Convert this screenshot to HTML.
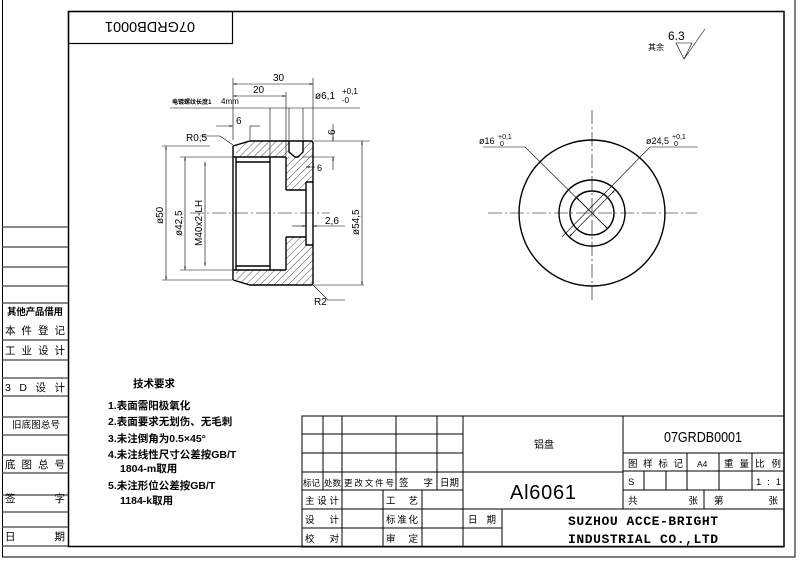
<!DOCTYPE html>
<html><head><meta charset="utf-8"><style>
html,body{margin:0;padding:0;background:#fff}
svg{display:block}
text{font-family:"Liberation Sans","Noto Sans CJK SC",sans-serif;fill:#000}
.c{font-family:"Noto Sans CJK SC","WenQuanYi Zen Hei",sans-serif}
.b{font-weight:bold}
</style></head><body>
<svg width="800" height="561" viewBox="0 0 800 561" xmlns="http://www.w3.org/2000/svg">
<defs>
<pattern id="h" width="5" height="5" patternUnits="userSpaceOnUse" patternTransform="rotate(45)">
<line x1="0" y1="0" x2="0" y2="5" stroke="#000" stroke-width="0.7"/></pattern>
<marker id="a" viewBox="0 0 10 10" refX="10" refY="5" markerWidth="6" markerHeight="6" orient="auto-start-reverse"><path d="M0,3 L10,5 L0,7z" fill="#000"/></marker>
</defs>
<g fill="none" stroke="#000">
<rect x="2.5" y="-1" width="792.5" height="558" stroke-width="1"/>
<rect x="68.5" y="11.5" width="715.5" height="535" stroke-width="1.5"/>
<rect x="68.5" y="11.5" width="164" height="32" stroke-width="1.2"/>
<g stroke-width="1.3" stroke="#444">
<line x1="2" y1="227" x2="68" y2="227"/><line x1="2" y1="247" x2="68" y2="247"/>
<line x1="2" y1="267" x2="68" y2="267"/><line x1="2" y1="286" x2="68" y2="286"/>
<line x1="2" y1="303" x2="68" y2="303"/><line x1="2" y1="340" x2="68" y2="340"/>
<line x1="2" y1="360" x2="68" y2="360"/><line x1="2" y1="378" x2="68" y2="378"/>
<line x1="2" y1="396" x2="68" y2="396"/><line x1="2" y1="417" x2="68" y2="417"/>
<line x1="2" y1="435" x2="68" y2="435"/><line x1="2" y1="455" x2="68" y2="455"/>
<line x1="2" y1="473" x2="68" y2="473"/><line x1="2" y1="495" x2="68" y2="495"/>
<line x1="2" y1="512" x2="68" y2="512"/><line x1="2" y1="527" x2="68" y2="527"/>
<line x1="2" y1="546" x2="68" y2="546"/>
</g>
<g stroke-width="1">
<rect x="302" y="416" width="482" height="131"/>
<line x1="302" y1="434" x2="463" y2="434"/><line x1="302" y1="453" x2="463" y2="453"/>
<line x1="302" y1="472" x2="463" y2="472"/><line x1="302" y1="490" x2="463" y2="490"/>
<line x1="302" y1="509" x2="463" y2="509"/><line x1="302" y1="528" x2="463" y2="528"/>
<line x1="323" y1="416" x2="323" y2="490"/><line x1="342" y1="416" x2="342" y2="547"/>
<line x1="396" y1="416" x2="396" y2="490"/><line x1="437" y1="416" x2="437" y2="490"/>
<line x1="383" y1="490" x2="383" y2="547"/><line x1="422" y1="490" x2="422" y2="547"/>
<line x1="463" y1="416" x2="463" y2="547"/><line x1="623" y1="416" x2="623" y2="509"/>
<line x1="463" y1="472" x2="623" y2="472"/>
<line x1="463" y1="509" x2="784" y2="509"/><line x1="463" y1="528" x2="502" y2="528"/>
<line x1="502" y1="509" x2="502" y2="547"/>
<line x1="623" y1="453" x2="784" y2="453"/><line x1="623" y1="471" x2="784" y2="471"/>
<line x1="623" y1="490" x2="784" y2="490"/>
<line x1="687" y1="453" x2="687" y2="490"/><line x1="719" y1="453" x2="719" y2="490"/>
<line x1="752" y1="453" x2="752" y2="490"/><line x1="644" y1="471" x2="644" y2="490"/>
<line x1="666" y1="471" x2="666" y2="490"/><line x1="704" y1="490" x2="704" y2="509"/>
</g>
<path d="M236,146 L250,141 L289,141 L289,157 L236,157 Z" fill="url(#h)" stroke="none"/>
<path d="M303,141 L313,141 L313,182 L306,182 L306,190 L286,190 L286,157 L303,157Z" fill="url(#h)" stroke="none"/>
<path d="M236,280 L250,285 L311,285 L313,283 L313,245 L306,245 L306,237 L286,237 L286,270 L236,270 Z" fill="url(#h)" stroke="none"/>
<g stroke-width="1.4">
<path d="M233,146 L233,280 M233,146 L250,141 L311,141 Q313,141 313,143 L313,283 Q313,285 311,285 L250,285 L233,280"/>
<line x1="233" y1="157" x2="286" y2="157"/><line x1="233" y1="270" x2="286" y2="270"/>
<line x1="236" y1="162" x2="270" y2="162"/><line x1="236" y1="266" x2="270" y2="266"/>
<line x1="236" y1="157" x2="236" y2="270"/>
<line x1="270" y1="157" x2="270" y2="270"/>
<line x1="286" y1="157" x2="286" y2="190"/><line x1="286" y1="237" x2="286" y2="270"/>
<line x1="286" y1="190" x2="306" y2="190"/><line x1="286" y1="237" x2="306" y2="237"/>
<path d="M306,182 L313,182 M306,182 L306,245 L313,245"/>
<path d="M289,141 L289,152 L295,157 L298,157 L303,152 L303,141"/>
</g>
<g stroke-width="0.6">
<line x1="190" y1="213" x2="330" y2="213" stroke-dasharray="14,3,2,3"/>
<line x1="233" y1="140" x2="233" y2="78"/><line x1="313" y1="140" x2="313" y2="78"/>
<line x1="286" y1="156" x2="286" y2="92"/>
<line x1="233" y1="84" x2="313" y2="84" marker-start="url(#a)" marker-end="url(#a)"/>
<line x1="233" y1="96" x2="286" y2="96" marker-start="url(#a)" marker-end="url(#a)"/>
<line x1="170" y1="108" x2="360" y2="108"/>
<line x1="270" y1="108" x2="270" y2="156"/>
<line x1="289" y1="108" x2="289" y2="140"/><line x1="303" y1="108" x2="303" y2="140"/>
<line x1="216" y1="126" x2="233" y2="126" marker-end="url(#a)"/>
<line x1="250" y1="126" x2="260" y2="126"/><line x1="250" y1="126" x2="250" y2="140"/>
<line x1="314" y1="141" x2="370" y2="141"/><line x1="302" y1="157" x2="335" y2="157"/>
<line x1="333" y1="124" x2="333" y2="141" marker-end="url(#a)"/>
<line x1="333" y1="157" x2="333" y2="170" marker-start="url(#a)"/>
<line x1="315" y1="167" x2="306" y2="167" marker-end="url(#a)"/>
<line x1="292" y1="226" x2="306" y2="226" marker-end="url(#a)"/>
<line x1="313" y1="226" x2="345" y2="226" marker-start="url(#a)"/>
<line x1="210" y1="146" x2="162" y2="146"/><line x1="232" y1="280" x2="162" y2="280"/>
<line x1="166" y1="146" x2="166" y2="280" marker-start="url(#a)" marker-end="url(#a)"/>
<line x1="232" y1="157" x2="180" y2="157"/><line x1="232" y1="270" x2="180" y2="270"/>
<line x1="185" y1="157" x2="185" y2="270" marker-start="url(#a)" marker-end="url(#a)"/>
<line x1="205" y1="162" x2="205" y2="266" marker-start="url(#a)" marker-end="url(#a)"/>
<line x1="314" y1="285" x2="364" y2="285"/>
<line x1="362" y1="141" x2="362" y2="285" marker-start="url(#a)" marker-end="url(#a)"/>
<path d="M200,136 L220,136 L233,145" />
<path d="M313,285 L328,300 L345,300"/>
</g>
<g stroke-width="1.4">
<circle cx="592" cy="213" r="73"/><circle cx="592" cy="213" r="33"/><circle cx="592" cy="213" r="22"/>
</g>
<g stroke-width="0.6">
<line x1="488" y1="213" x2="697" y2="213" stroke-dasharray="14,3,2,3"/>
<line x1="592" y1="110" x2="592" y2="300" stroke-dasharray="14,3,2,3"/>
<path d="M483,147 L525,147 L608,229"/>
<line x1="576" y1="197" x2="608" y2="229" marker-start="url(#a)" marker-end="url(#a)"/>
<path d="M698,147 L650,147 L562,237"/>
<line x1="615" y1="190" x2="569" y2="237" marker-start="url(#a)" marker-end="url(#a)"/>
<path d="M676,43 L692,43 L684,59 Z"/><line x1="684" y1="59" x2="705" y2="29"/>
</g>
</g>
<text x="150" y="32" font-size="15" text-anchor="middle" transform="rotate(180 150 27)" textLength="90" lengthAdjust="spacingAndGlyphs">07GRDB0001</text>
<text x="273" y="81" font-size="10">30</text>
<text x="253" y="93" font-size="10">20</text>
<text x="315" y="99" font-size="10">ø6,1</text><text x="342" y="94" font-size="8">+0,1</text><text x="342" y="103" font-size="8">-0</text>
<text x="172" y="104" font-size="6" class="c b">电镀螺纹长度1</text><text x="221" y="104" font-size="8">4mm</text>
<text x="236" y="124" font-size="10">6</text>
<text x="186" y="141" font-size="10">R0,5</text>
<text x="326" y="130" font-size="10" transform="rotate(-90 333 128)">6</text>
<text x="317" y="171" font-size="9">6</text>
<text x="325" y="224" font-size="10">2,6</text>
<text x="314" y="305" font-size="10">R2</text>
<text x="0" y="0" font-size="10" transform="translate(163 224) rotate(-90)">ø50</text>
<text x="0" y="0" font-size="10" transform="translate(182 236) rotate(-90)">ø42,5</text>
<text x="0" y="0" font-size="10" transform="translate(202 246) rotate(-90)">M40x2-LH</text>
<text x="0" y="0" font-size="10" transform="translate(359 235) rotate(-90)">ø54,5</text>
<text x="479" y="144" font-size="9">ø16</text><text x="498" y="139" font-size="7">+0,1</text><text x="500" y="146" font-size="7">0</text>
<text x="646" y="144" font-size="9">ø24,5</text><text x="672" y="139" font-size="7">+0,1</text><text x="674" y="146" font-size="7">0</text>
<text x="648" y="50" font-size="8" class="c">其余</text>
<text x="668" y="40" font-size="12">6.3</text>
<g class="c b" font-size="10.5">
<text x="133" y="387">技术要求</text>
<text x="108" y="409">1.表面需阳极氧化</text>
<text x="108" y="425">2.表面要求无划伤、无毛刺</text>
<text x="108" y="442">3.未注倒角为0.5×45°</text>
<text x="108" y="458">4.未注线性尺寸公差按GB/T</text>
<text x="120" y="472">1804-m取用</text>
<text x="108" y="489">5.未注形位公差按GB/T</text>
<text x="120" y="504">1184-k取用</text>
</g>
<g class="c" font-size="10.5">
<text x="7" y="315" font-size="9.5" class="b" textLength="56">其他产品借用</text>
<text x="5" y="334" textLength="60">本件登记</text>
<text x="5" y="354" textLength="60">工业设计</text>
<text x="5" y="391" textLength="60">3D设计</text>
<text x="12" y="428" font-size="9.5" textLength="48">旧底图总号</text>
<text x="5" y="468" textLength="60">底图总号</text>
<text x="5" y="502" textLength="60">签字</text>
<text x="5" y="540" textLength="60">日期</text>
</g>
<g class="c" font-size="9.5">
<text x="303" y="486" font-size="8.5">标记</text><text x="324" y="486" font-size="8.5">处数</text><text x="344" y="486" font-size="8.5" textLength="50">更改文件号</text>
<text x="399" y="486" textLength="34">签字</text><text x="440" y="486">日期</text>
<text x="305" y="504" textLength="34">主设计</text><text x="386" y="504" textLength="32">工艺</text>
<text x="305" y="523" textLength="34">设计</text><text x="386" y="523" textLength="32">标准化</text>
<text x="305" y="542" textLength="34">校对</text><text x="386" y="542" textLength="32">审定</text>
<text x="468" y="523" textLength="28">日期</text>
<text x="534" y="448" font-size="10">铝盘</text>
<text x="628" y="467" textLength="55">图样标记</text><text x="697" y="467" font-size="8.5">A4</text>
<text x="724" y="467" textLength="25">重量</text><text x="755" y="467" textLength="26">比例</text>
<text x="628" y="485">S</text><text x="756" y="485" textLength="25">1:1</text>
<text x="628" y="504" textLength="70">共张</text>
<text x="714" y="504" textLength="64">第张</text>
</g>
<text x="703" y="442" font-size="15" text-anchor="middle" textLength="78" lengthAdjust="spacingAndGlyphs">07GRDB0001</text>
<text x="543" y="499" font-size="20" text-anchor="middle" fill="#555" textLength="66">Al6061</text>
<text x="643" y="525" font-size="13" class="b" text-anchor="middle" style="font-family:'Liberation Mono',monospace" textLength="150">SUZHOU ACCE-BRIGHT</text>
<text x="643" y="543" font-size="13" class="b" text-anchor="middle" style="font-family:'Liberation Mono',monospace" textLength="150">INDUSTRIAL CO.,LTD</text>
</svg>
</body></html>
